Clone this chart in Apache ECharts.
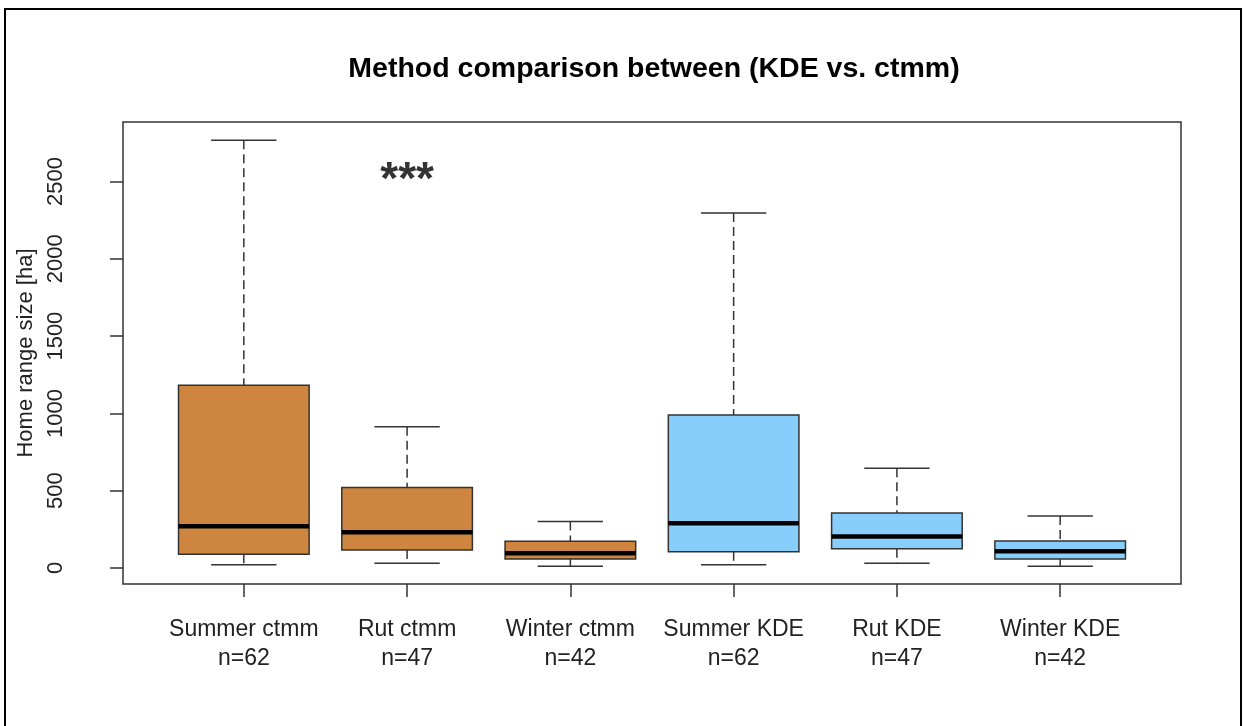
<!DOCTYPE html>
<html>
<head>
<meta charset="utf-8">
<title>Method comparison between (KDE vs. ctmm)</title>
<script src="https://cdn.jsdelivr.net/npm/echarts@6/dist/echarts.min.js"></script>
<style>
  html, body { margin: 0; padding: 0; background: #fff; }
  #chart { width: 1244px; height: 726px; }
</style>
</head>
<body>
<div id="chart"></div>
<script>
// B data
var categories = ['Summer ctmm', 'Rut ctmm', 'Winter ctmm', 'Summer KDE', 'Rut KDE', 'Winter KDE']
var sampleSizes = [62, 47, 42, 62, 47, 42]
var whiskerLow = [21, 30, 11, 21, 30, 11]
var lowerQuartile = [89, 116, 58, 105, 125, 58]
var medians = [270, 231, 95, 289, 203, 108]
var upperQuartile = [1182, 520, 173, 990, 356, 175]
var whiskerHigh = [2767, 914, 300, 2297, 645, 336]
var yTicks = [0, 500, 1000, 1500, 2000, 2500]
var xTicks = [1, 2, 3, 4, 5, 6]
var signifLabel = '***'
var signifAt = [2, 2500]
// E data

var FONT = '"Liberation Sans", Arial, sans-serif'
var LINE = '#333333'

// rows for the custom series: [pos, low, q1, median, q3, high]
var boxRows = []
for (var i = 0; i < categories.length; i++) {
  boxRows.push([xTicks[i], whiskerLow[i], lowerQuartile[i], medians[i], upperQuartile[i], whiskerHigh[i]])
}

// R style box: dashed whiskers, half-width caps, thick median
function renderBox (params, api) {
  var pos = api.value(0)
  var lo = api.coord([pos, api.value(1)])
  var b1 = api.coord([pos, api.value(2)])
  var md = api.coord([pos, api.value(3)])
  var b3 = api.coord([pos, api.value(4)])
  var hi = api.coord([pos, api.value(5)])
  var unit = api.size([1, 0])[0]
  var half = unit * 0.4
  var cap = unit * 0.2
  var cx = lo[0]
  var fill = categories[params.dataIndex].indexOf('KDE') >= 0 ? '#87CEFA' : '#CD853F'
  var dashStyle = { stroke: LINE, lineWidth: 1.5, lineDash: [9, 5] }
  var solid = { stroke: LINE, lineWidth: 1.5 }
  return {
    type: 'group',
    children: [
      { type: 'line', shape: { x1: cx, y1: hi[1], x2: cx, y2: b3[1] }, style: dashStyle },
      { type: 'line', shape: { x1: cx, y1: b1[1], x2: cx, y2: lo[1] }, style: dashStyle },
      { type: 'line', shape: { x1: cx - cap, y1: hi[1], x2: cx + cap, y2: hi[1] }, style: solid },
      { type: 'line', shape: { x1: cx - cap, y1: lo[1], x2: cx + cap, y2: lo[1] }, style: solid },
      { type: 'rect', shape: { x: cx - half, y: b3[1], width: half * 2, height: b1[1] - b3[1] },
        style: { fill: fill, stroke: LINE, lineWidth: 1.5 } },
      { type: 'line', shape: { x1: cx - half, y1: md[1], x2: cx + half, y2: md[1] },
        style: { stroke: '#000', lineWidth: 4.5 } }
    ]
  }
}

var myChart = echarts.init(document.getElementById('chart'), null, { renderer: 'canvas' })

var option = {
  backgroundColor: '#fff',
  animation: false,
  title: {
    text: 'Method comparison between (KDE vs. ctmm)',
    left: 649,
    top: 50,
    textAlign: 'center',
    textStyle: { fontFamily: FONT, fontSize: 28.5, fontWeight: 'bold', color: '#000' }
  },
  graphic: [{
    // outer frame of the figure
    type: 'rect',
    shape: { x: 5, y: 9, width: 1236, height: 740 },
    style: { fill: 'none', stroke: '#000', lineWidth: 2 },
    silent: true
  }],
  grid: {
    left: 123, right: 63, top: 122, bottom: 142,
    show: true, borderColor: LINE, borderWidth: 1.5, backgroundColor: 'transparent'
  },
  xAxis: {
    type: 'value',
    min: 0.26,
    max: 6.74,
    axisLine: { show: false, onZero: false },
    splitLine: { show: false },
    axisTick: { show: true, customValues: xTicks, length: 13, lineStyle: { color: LINE, width: 1.5 } },
    axisLabel: {
      customValues: xTicks,
      margin: 31,
      fontFamily: FONT,
      fontSize: 23,
      lineHeight: 29,
      color: '#222',
      formatter: function (v) {
        var k = Math.round(v) - 1
        return categories[k] + '\nn=' + sampleSizes[k]
      }
    }
  },
  yAxis: {
    type: 'value',
    min: -103.5,
    max: 2885,
    name: 'Home range size [ha]',
    nameLocation: 'middle',
    nameRotate: 90,
    nameGap: 85,
    nameTextStyle: { fontFamily: FONT, fontSize: 22, color: '#222' },
    axisLine: { show: false, onZero: false },
    splitLine: { show: false },
    axisTick: { show: true, customValues: yTicks, length: 13, lineStyle: { color: LINE, width: 1.5 } },
    axisLabel: {
      customValues: yTicks,
      rotate: 90,
      margin: 56,
      fontFamily: FONT,
      fontSize: 22,
      color: '#222',
      formatter: function (v) { return String(v) }
    }
  },
  series: [{
    type: 'custom',
    renderItem: renderBox,
    data: boxRows,
    encode: { x: 0, y: [1, 2, 3, 4, 5] },
    z: 2
  }, {
    type: 'scatter',
    data: [signifAt],
    symbolSize: 0,
    label: {
      show: true,
      position: 'inside',
      formatter: signifLabel,
      fontFamily: FONT,
      fontSize: 46,
      fontWeight: 'bold',
      color: '#000',
      textBorderWidth: 0
    },
    z: 3
  }]
}

myChart.setOption(option)
</script>
</body>
</html>
